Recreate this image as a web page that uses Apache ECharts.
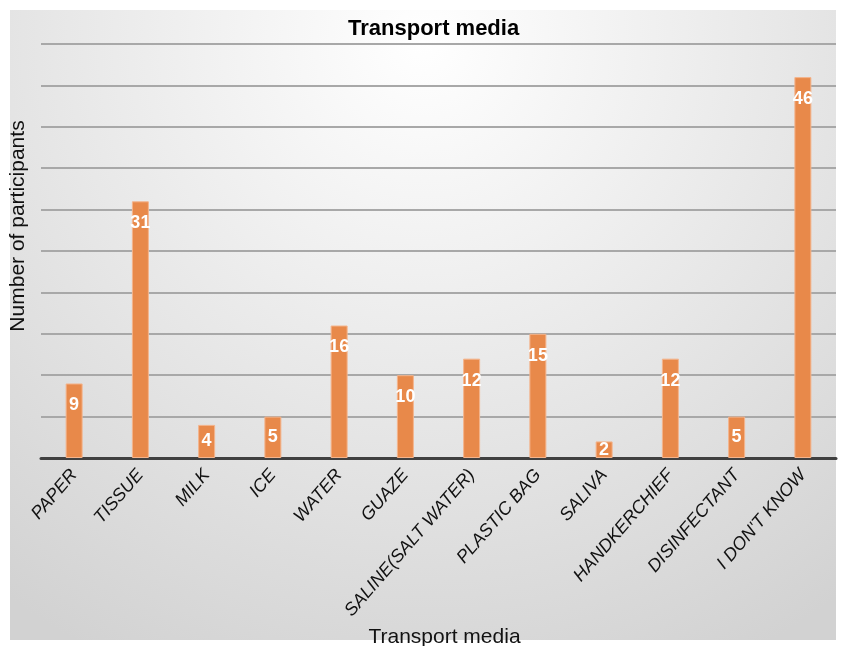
<!DOCTYPE html>
<html>
<head>
<meta charset="utf-8">
<script src="https://cdn.jsdelivr.net/npm/echarts@6/dist/echarts.min.js"></script>
<style>
  html, body { margin: 0; padding: 0; background: #fff; }
  #main { width: 842px; height: 646px; }
</style>
</head>
<body>
<div id="main"></div>
<script>
// categories and counts
const categories = ['PAPER', 'TISSUE', 'MILK', 'ICE', 'WATER', 'GUAZE', 'SALINE(SALT WATER)',
  'PLASTIC BAG', 'SALIVA', 'HANDKERCHIEF', 'DISINFECTANT', "I DON'T KNOW"]
const participants = [9, 31, 4, 5, 16, 10, 12, 15, 2, 12, 5, 46]

const myChart = echarts.init(document.getElementById('main'))

// small bars get their label in the middle, the others near the top
const barData = participants.map(v => ({
  value: v,
  label: v < 6 ? { position: 'inside' } : { position: 'insideTop', distance: 13 }
}))

const option = {
  backgroundColor: '#ffffff',
  animation: false,
  graphic: [{
    type: 'rect',
    z: -10,
    shape: { x: 10, y: 10, width: 826, height: 630 },
    style: {
      fill: {
        type: 'radial', x: 0.5, y: 0.05, r: 1.1,
        colorStops: [
          { offset: 0, color: '#ffffff' },
          { offset: 1, color: '#d2d2d2' }
        ]
      }
    }
  }],
  title: {
    text: 'Transport media',
    left: 343,
    top: 13,
    textStyle: { fontFamily: 'Liberation Sans', fontWeight: 'bold', fontSize: 22, color: '#000' }
  },
  grid: { left: 41, right: 6, top: 44, bottom: 188, containLabel: false, outerBoundsMode: 'none' },
  xAxis: {
    type: 'category',
    data: categories,
    name: 'Transport media',
    nameLocation: 'middle',
    nameGap: 162,
    nameTextStyle: { fontFamily: 'Liberation Sans', fontSize: 21, color: '#111', padding: [0, 0, 0, 12] },
    axisLine: { lineStyle: { color: '#404040', width: 3 } },
    axisTick: { show: false },
    axisLabel: {
      interval: 0,
      rotate: 49,
      margin: 14,
      fontFamily: 'Liberation Sans',
      fontStyle: 'italic',
      fontSize: 18,
      color: '#111'
    }
  },
  yAxis: {
    type: 'value',
    min: 0,
    max: 50,
    interval: 5,
    name: 'Number of participants',
    nameLocation: 'middle',
    nameGap: 12,
    nameTextStyle: { fontFamily: 'Liberation Sans', fontSize: 21, color: '#111', padding: [0, 0, 0, 50] },
    axisLabel: { show: false },
    axisLine: { show: false },
    axisTick: { show: false },
    splitLine: { lineStyle: { color: '#a8a8a8', width: 2 } }
  },
  series: [{
    type: 'bar',
    data: barData,
    barWidth: 17,
    itemStyle: { color: '#E8894A', borderColor: '#F4B48C', borderWidth: 1 },
    label: {
      show: true,
      color: '#ffffff',
      fontFamily: 'Liberation Sans',
      fontWeight: 'bold',
      fontSize: 18
    }
  }]
}

myChart.setOption(option)
</script>
</body>
</html>
